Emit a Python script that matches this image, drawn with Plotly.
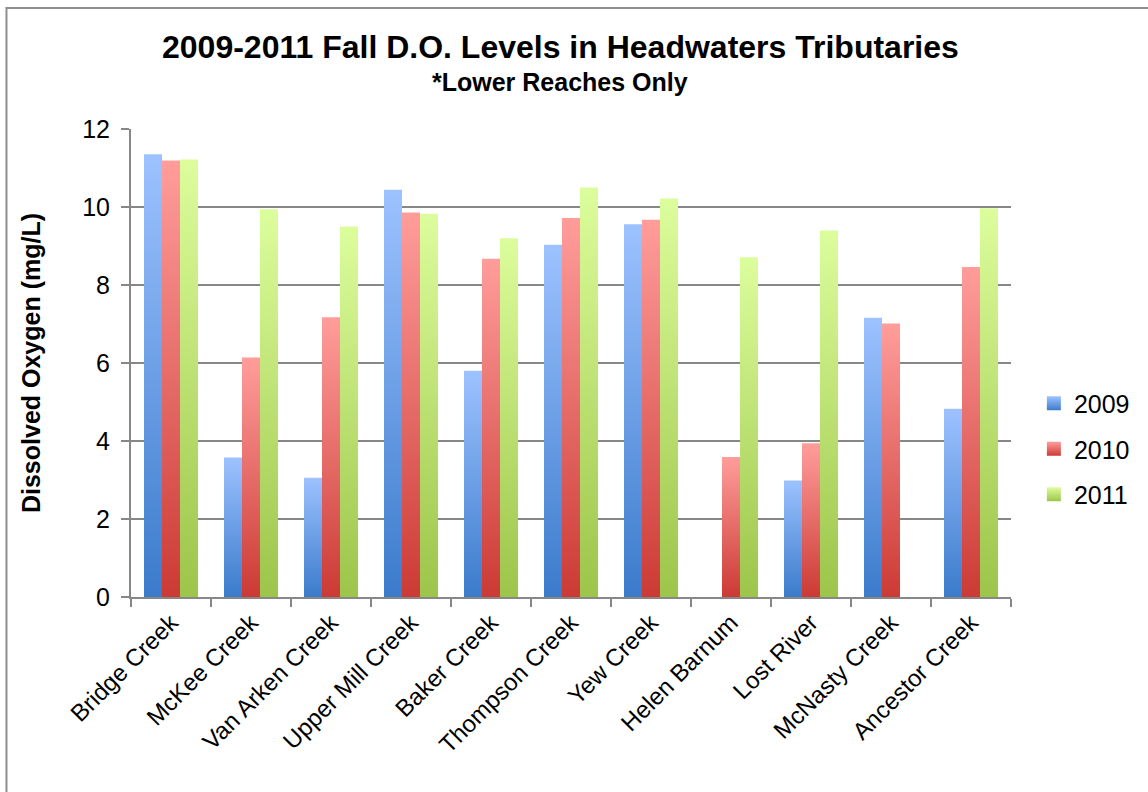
import plotly.graph_objects as go

# Sampling sites (lower reaches) and fall dissolved-oxygen readings, mg/L
creeks = [
    "Bridge Creek", "McKee Creek", "Van Arken Creek", "Upper Mill Creek",
    "Baker Creek", "Thompson Creek", "Yew Creek", "Helen Barnum",
    "Lost River", "McNasty Creek", "Ancestor Creek",
]
years = ["2009", "2010", "2011"]
do_2009 = [11.35, 3.58, 3.06, 10.44, 5.80, 9.03, 9.56, None, 2.99, 7.16, 4.83]
do_2010 = [11.19, 6.14, 7.17, 9.86, 8.67, 9.72, 9.67, 3.59, 3.94, 7.01, 8.46]
do_2011 = [11.22, 9.94, 9.50, 9.83, 9.20, 10.50, 10.22, 8.71, 9.40, None, 9.97]
y_ticks = [0, 2, 4, 6, 8, 10, 12]

# (bottom colour, top colour) of each year's vertical gradient
shades = {
    "2009": ("#3b7bcb", "#9dc2ff"),
    "2010": ("#cc3a35", "#ff9d9b"),
    "2011": ("#9cc54a", "#dcfd9c"),
}

BAR_W = 0.225
FONT = "Liberation Sans, Arial, sans-serif"
GRID = "#878787"

fig = go.Figure()

series = [do_2009, do_2010, do_2011]
for s, (year, vals) in enumerate(zip(years, series)):
    bottom, top = shades[year]
    offset = (s - 1) * BAR_W
    # legend swatch: small square with the same vertical gradient
    fig.add_trace(go.Scatter(
        x=[None], y=[None], mode="markers", name=year, legendgroup=year,
        marker=dict(symbol="square", size=14, color=top, line=dict(width=0),
                    gradient=dict(type="vertical", color=bottom)),
        hoverinfo="skip",
    ))
    for i, v in enumerate(vals):
        if v is None:
            continue
        xc = i + offset
        left, right = xc - BAR_W / 2, xc + BAR_W / 2
        fig.add_trace(go.Scatter(
            x=[left, right, right, left, left],
            y=[0, 0, v, v, 0],
            mode="lines",
            fill="toself",
            line=dict(width=0, color=bottom),
            fillgradient=dict(type="vertical",
                              colorscale=[[0, bottom], [1, top]]),
            name=year,
            legendgroup=year,
            showlegend=False,
            hoveron="fills",
            text=f"{creeks[i]} {year}: {v} mg/L",
            hoverinfo="text",
        ))

fig.update_layout(
    width=1148,
    height=792,
    margin=dict(l=131, r=137, t=129, b=195, autoexpand=False),
    paper_bgcolor="white",
    plot_bgcolor="white",
    font=dict(family=FONT, color="black", size=24),
    showlegend=True,
    legend=dict(
        x=1.026, y=0.316, xanchor="left", yanchor="middle",
        font=dict(size=25, family=FONT),
        tracegroupgap=10,
        itemwidth=30,
        bgcolor="rgba(0,0,0,0)",
    ),
    xaxis=dict(
        type="linear",
        range=[-0.5, len(creeks) - 0.5],
        tickmode="array",
        tickvals=list(range(len(creeks))),
        ticktext=creeks,
        tickangle=-45,
        ticks="",
        showgrid=False,
        zeroline=False,
        showline=True,
        linecolor=GRID,
        linewidth=2,
        tickfont=dict(size=24, family=FONT),
        minor=dict(tickmode="linear", tick0=-0.5, dtick=1, ticks="outside",
                   ticklen=8, tickwidth=2, tickcolor=GRID, showgrid=False),
        fixedrange=True,
    ),
    yaxis=dict(
        range=[0, 12],
        tickmode="array",
        tickvals=y_ticks,
        showgrid=True,
        gridcolor=GRID,
        gridwidth=1.5,
        zeroline=False,
        showline=True,
        linecolor=GRID,
        linewidth=2,
        ticks="outside",
        ticklen=8,
        tickwidth=2,
        tickcolor=GRID,
        ticklabelstandoff=6,
        tickfont=dict(size=25, family=FONT),
        title=dict(text="<b>Dissolved Oxygen (mg/L)</b>",
                   font=dict(size=25, family=FONT), standoff=34),
        fixedrange=True,
    ),
    annotations=[
        dict(text="<b>2009-2011 Fall D.O. Levels in Headwaters Tributaries</b>",
             xref="paper", yref="paper", x=0.4875, y=1.175,
             xanchor="center", yanchor="middle", showarrow=False,
             font=dict(size=32, family=FONT)),
        dict(text="<b>*Lower Reaches Only</b>",
             xref="paper", yref="paper", x=0.4875, y=1.1004,
             xanchor="center", yanchor="middle", showarrow=False,
             font=dict(size=25, family=FONT)),
    ],
    shapes=[
        # outer chart frame
        dict(type="rect", xref="paper", yref="paper",
             x0=-0.1415, x1=1.2, y0=-0.45, y1=1.2585,
             line=dict(color="#8e8e8e", width=2), layer="below"),
    ],
)

fig.write_html("out.html")
